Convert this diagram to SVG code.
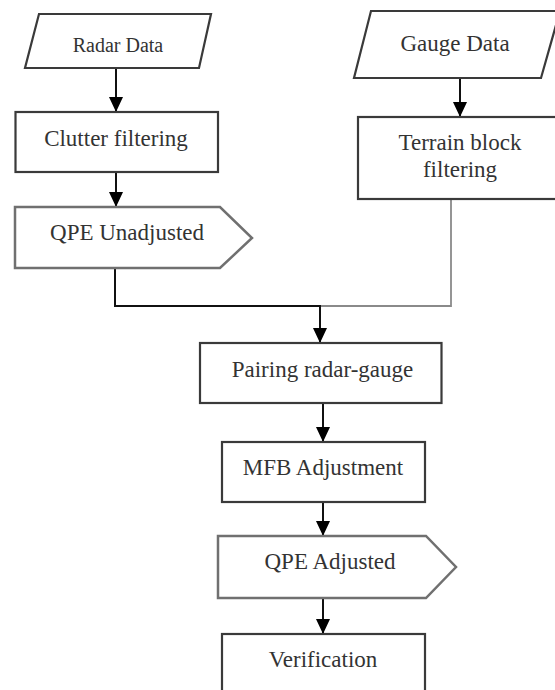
<svg xmlns="http://www.w3.org/2000/svg" width="555" height="690" viewBox="0 0 555 690">
<style>
.box{fill:#fff;stroke:#3a3a3a;stroke-width:2.2}
.pent{fill:#fff;stroke:#707070;stroke-width:2.5}
.t{font-family:'Liberation Serif','Times New Roman','DejaVu Serif',serif;font-size:23px;fill:#333;text-anchor:middle}
.r{font-size:20px}
.ln{fill:none;stroke:#111;stroke-width:2}
.gl{fill:none;stroke:#8a8a8a;stroke-width:1.8}
</style>
<defs>
<marker id="ah" markerUnits="userSpaceOnUse" markerWidth="16" markerHeight="16" viewBox="0 0 16 16" refX="15" refY="8" orient="auto">
<path d="M0,1 L15,8 L0,15 Z" fill="#000"/>
</marker>
</defs>
<rect width="555" height="690" fill="#fff"/>
<g id="connectors">
<line class="ln" x1="116" y1="68" x2="116" y2="112" marker-end="url(#ah)"/>
<line class="ln" x1="116" y1="172" x2="116" y2="207" marker-end="url(#ah)"/>
<line class="ln" x1="460" y1="78" x2="460" y2="117" marker-end="url(#ah)"/>
<polyline class="gl" points="451,199 451,306 320,306"/>
<polyline class="ln" points="115,268 115,306 321,306"/>
<line class="ln" x1="320" y1="306" x2="320" y2="343" marker-end="url(#ah)"/>
<line class="ln" x1="323" y1="403" x2="323" y2="442" marker-end="url(#ah)"/>
<line class="ln" x1="323" y1="502" x2="323" y2="536" marker-end="url(#ah)"/>
<line class="ln" x1="323" y1="598" x2="323" y2="634" marker-end="url(#ah)"/>
</g>
<g id="radar-data">
<polygon class="box" points="39,14 211,14 199,68 25,68"/>
<text class="t r" x="118" y="52">Radar Data</text>
</g>
<g id="clutter-filtering">
<rect class="box" x="15.5" y="112" width="202.5" height="60"/>
<text class="t" x="116" y="146">Clutter filtering</text>
</g>
<g id="qpe-unadjusted">
<polygon class="pent" points="15,207 220,207 252,238 220,268 15,268"/>
<text class="t" x="127" y="240">QPE Unadjusted</text>
</g>
<g id="gauge-data">
<polygon class="box" points="371,11 560,11 541,78 354,78"/>
<text class="t" x="455" y="51">Gauge Data</text>
</g>
<g id="terrain-block-filtering">
<rect class="box" x="358" y="117" width="205" height="82"/>
<text class="t" x="460" y="150">Terrain block</text>
<text class="t" x="460" y="177">filtering</text>
</g>
<g id="pairing-radar-gauge">
<rect class="box" x="200" y="343" width="241.5" height="60"/>
<text class="t" x="322.5" y="377">Pairing radar-gauge</text>
</g>
<g id="mfb-adjustment">
<rect class="box" x="222" y="442" width="203" height="60"/>
<text class="t" x="323" y="475">MFB Adjustment</text>
</g>
<g id="qpe-adjusted">
<polygon class="pent" points="218,536 426,536 456,567 426,598 218,598"/>
<text class="t" x="330" y="569">QPE Adjusted</text>
</g>
<g id="verification">
<rect class="box" x="222" y="634" width="203" height="70"/>
<text class="t" x="323" y="667">Verification</text>
</g>
</svg>
